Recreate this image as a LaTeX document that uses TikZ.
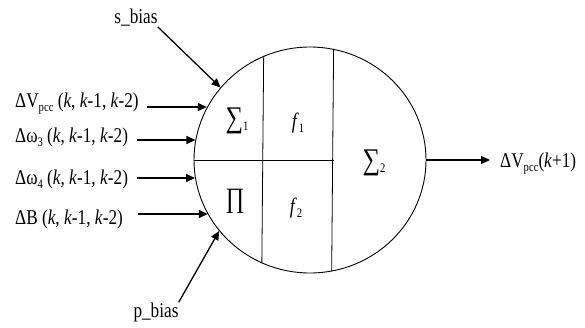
\documentclass[tikz,border=0pt]{standalone}
\usepackage{fontspec}
\setmainfont{Liberation Serif}[FakeStretch=0.82]
\usetikzlibrary{arrows.meta,shapes.geometric}
\newcommand\lowsub[1]{\raisebox{-4.5pt}{\fontsize{13}{14}\selectfont #1}}
\newcommand\bigop[2]{{\fontsize{30}{30}\selectfont #1}\raisebox{-3pt}{\fontsize{13}{14}\selectfont #2}}

\begin{document}
\begin{tikzpicture}[x=1pt,y=-1pt,
  lbl/.style={font=\fontsize{21}{24}\selectfont,inner sep=0pt},
  cell/.style={font=\fontsize{22}{24}\selectfont,inner sep=0pt},
  sig/.style={-{Triangle[length=9pt,width=8pt]},line width=1.3pt}]
\useasboundingbox (0,0) rectangle (585,327);

% ---------------- neuron body ----------------
\node[draw,ellipse,line width=0.9pt,minimum width=232pt,minimum height=226pt,inner sep=0pt] (core) at (310,160) {};
\draw[line width=0.8pt] (core.114.5) -- (core.245.5);
\draw[line width=0.8pt] (core.78.3) -- (core.281.7);
\draw[line width=0.8pt] (core.west) -- (core.78.3 |- core.center);

% ---------------- cells ----------------
\node[cell] (sum1) at (237,121) {\bigop{∑}{1}};
\node[cell] (f1) at (298,123) {\textit{f}\lowsub{1}};
\node[cell] (prod) at (235,201) {{\fontsize{28}{28}\selectfont ∏}};
\node[cell] (f2) at (296,208) {\textit{f}\lowsub{2}};
\node[cell] (sum2) at (374,163) {\bigop{∑}{2}};

% ---------------- inputs ----------------
\node[lbl,anchor=base west] (dV) at (15,107) {ΔV\lowsub{pcc} (\textit{k}, \textit{k}-1, \textit{k}-2)};
\node[lbl,anchor=base west] (dw3) at (15,142) {Δω\lowsub{3} (\textit{k}, \textit{k}-1, \textit{k}-2)};
\node[lbl,anchor=base west] (dw4) at (15,184) {Δω\lowsub{4} (\textit{k}, \textit{k}-1, \textit{k}-2)};
\node[lbl,anchor=base west] (dB) at (15,224) {ΔB (\textit{k}, \textit{k}-1, \textit{k}-2)};
\coordinate (inV) at (147,107);
\coordinate (inw3) at (137,140);
\coordinate (inw4) at (137,178);
\coordinate (inB) at (138,214);
\draw[sig] (inV) -- (inV -| core.153);
\draw[sig] (inw3) -- (inw3 -| core.170);
\draw[sig] (inw4) -- (inw4 -| core.189);
\draw[sig] (inB) -- (inB -| core.208);

% ---------------- biases ----------------
\node[lbl] (sb) at (136,18) {s\_bias};
\node[lbl] (pb) at (156,312) {p\_bias};
\draw[sig] (sb.south east) -- (core.141);
\draw[sig] (pb.north east) -- (core.218);

% ---------------- output ----------------
\node[lbl,anchor=base west] (out) at (500,167) {ΔV\lowsub{pcc}(\textit{k}+1)};
\draw[sig,shorten >=10pt] (core.east) -- (core.east -| out.west);
\end{tikzpicture}
\end{document}
